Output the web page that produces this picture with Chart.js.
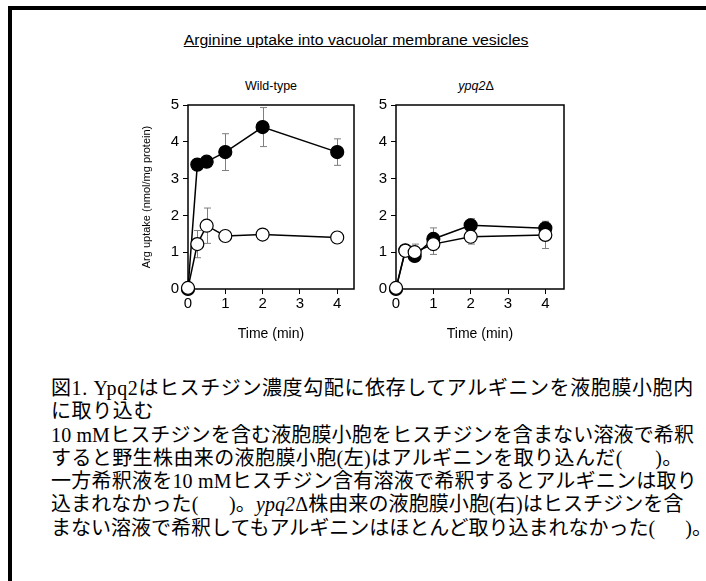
<!DOCTYPE html>
<html><head><meta charset="utf-8">
<script src="https://cdn.jsdelivr.net/npm/chart.js@4.4.1/dist/chart.umd.min.js"></script>
<style>
html,body{margin:0;padding:0;background:#fff;width:706px;height:581px;overflow:hidden;position:relative}
#frame{position:absolute;left:8px;top:6px;width:720px;height:600px;border-top:4px solid #000;border-left:4px solid #000;box-sizing:border-box}
.t{position:absolute;font-family:"Liberation Sans",Arial,sans-serif;color:#000;white-space:nowrap}
#title{left:7px;width:700px;top:32px;text-align:center;font-size:14px;text-decoration:underline;transform:scaleX(1.13);transform-origin:357px 0}
#sub1{left:171px;width:200px;top:79px;text-align:center;font-size:12.5px}
#sub2{left:376px;width:200px;top:79px;text-align:center;font-size:12.5px}
canvas{position:absolute}
#c1{left:130px;top:92px}
#c2{left:370px;top:92px}
#cap{position:absolute;left:51px;top:377px;font-family:"Liberation Serif","Noto Sans CJK JP",serif;font-size:20px;line-height:23.3px;color:#000;white-space:nowrap}
#cap span{display:block}
</style>
</head><body>
<div id="frame"></div>
<div class="t" id="title">Arginine uptake into vacuolar membrane vesicles</div>
<div class="t" id="sub1">Wild-type</div>
<div class="t" id="sub2"><i>ypq2</i>Δ</div>
<canvas id="c1" width="235" height="255"></canvas>
<canvas id="c2" width="205" height="255"></canvas>
<div id="cap"><span style="letter-spacing:0.6px">図1. Ypq2はヒスチジン濃度勾配に依存してアルギニンを液胞膜小胞内</span><span style="letter-spacing:0.6px">に取り込む</span><span style="letter-spacing:0.14px">10 mMヒスチジンを含む液胞膜小胞をヒスチジンを含まない溶液で希釈</span><span style="letter-spacing:0.4px">すると野生株由来の液胞膜小胞(左)はアルギニンを取り込んだ(&nbsp;&nbsp;&nbsp;&nbsp;&nbsp;&nbsp;)。</span><span style="letter-spacing:0.23px">一方希釈液を10 mMヒスチジン含有溶液で希釈するとアルギニンは取り</span><span style="letter-spacing:0.1px">込まれなかった(&nbsp;&nbsp;&nbsp;&nbsp;&nbsp;&nbsp;)。<i>ypq2</i>Δ株由来の液胞膜小胞(右)はヒスチジンを含</span><span>まない溶液で希釈してもアルギニンはほとんど取り込まれなかった(&nbsp;&nbsp;&nbsp;&nbsp;&nbsp;&nbsp;)。</span></div>
<script>
// Data (time in min, Arg uptake in nmol/mg protein)
const timePoints = [0, 0.25, 0.5, 1, 2, 4];
const xTicks = [0, 1, 2, 3, 4];
const yTicks = [0, 1, 2, 3, 4, 5];
// Wild-type: filled circles (diluted with histidine-free solution)
const wtFilled = [0, 3.38, 3.46, 3.72, 4.40, 3.72];
const wtFilledErr = [0, 0.05, 0.13, 0.50, 0.53, 0.36];
// Wild-type: open circles (diluted with 10 mM histidine solution)
const wtOpen = [0.03, 1.22, 1.72, 1.44, 1.48, 1.40];
const wtOpenErr = [0, 0.37, 0.48, 0.05, 0.12, 0.14];
// ypq2Δ: filled circles
const ypqFilled = [0, 1.05, 0.90, 1.36, 1.73, 1.65];
const ypqFilledErr = [0, 0.05, 0.15, 0.30, 0.18, 0.05];
// ypq2Δ: open circles
const ypqOpen = [0.03, 1.04, 1.00, 1.22, 1.42, 1.47];
const ypqOpenErr = [0, 0.05, 0.22, 0.28, 0.20, 0.37];

const FONT = '"Liberation Sans", Arial, sans-serif';

const framePlugin = {
  id: 'frame',
  beforeDatasetsDraw(chart) {
    const {ctx, chartArea: a} = chart;
    ctx.save();
    ctx.strokeStyle = '#000';
    ctx.lineWidth = 1.5;
    ctx.strokeRect(a.left, a.top, a.right - a.left, a.bottom - a.top);
    ctx.restore();
  }
};
const errPlugin = {
  id: 'errbars',
  beforeDatasetsDraw(chart) {
    const {ctx, scales: {x, y}} = chart;
    ctx.save();
    ctx.strokeStyle = '#7f7f7f';
    ctx.lineWidth = 1;
    chart.data.datasets.forEach(ds => {
      ds.errs.forEach((e, i) => {
        if (!e) return;
        const v = ds.vals[i];
        const px = Math.round(x.getPixelForValue(timePoints[i])) + 0.5;
        const top = y.getPixelForValue(v + e), bot = y.getPixelForValue(v - e);
        ctx.beginPath();
        ctx.moveTo(px, top); ctx.lineTo(px, bot);
        ctx.moveTo(px - 3.5, top); ctx.lineTo(px + 3.5, top);
        ctx.moveTo(px - 3.5, bot); ctx.lineTo(px + 3.5, bot);
        ctx.stroke();
      });
    });
    ctx.restore();
  }
};

function ds(vals, errs, fill) {
  return {
    data: timePoints.map((t, i) => ({x: t, y: vals[i]})),
    vals, errs,
    borderColor: '#000', borderWidth: 1.5,
    pointRadius: 6.5, pointHoverRadius: 6.5,
    pointBackgroundColor: fill, pointBorderColor: '#000', pointBorderWidth: 1.2,
    clip: false, tension: 0
  };
}

function makeChart(id, filled, filledErr, open, openErr, xmax, yWidth, showTitle) {
  new Chart(document.getElementById(id), {
    type: 'line',
    data: { datasets: [ds(open, openErr, '#fff'), ds(filled, filledErr, '#000')] },
    options: {
      responsive: false, animation: false, devicePixelRatio: 1,
      layout: {padding: {top: 5, right: 11, left: 0, bottom: 0}},
      plugins: {legend: {display: false}, tooltip: {enabled: false}},
      scales: {
        x: {
          type: 'linear', min: 0, max: xmax,
          afterBuildTicks: s => { s.ticks = xTicks.map(v => ({value: v})); },
          afterFit: s => { s.height = 58; },
          grid: {drawOnChartArea: false, tickLength: 5, color: '#000'},
          border: {display: false},
          ticks: {font: {family: FONT, size: 15}, color: '#000', padding: 1, maxRotation: 0},
          title: {display: true, text: 'Time (min)', font: {family: FONT, size: 14}, color: '#000', padding: {top: 0, bottom: 4}}
        },
        y: {
          type: 'linear', min: 0, max: 5,
          afterBuildTicks: s => { s.ticks = yTicks.map(v => ({value: v})); },
          afterFit: s => { s.width = yWidth; },
          grid: {drawOnChartArea: false, tickLength: 5, color: '#000'},
          border: {display: false},
          ticks: {font: {family: FONT, size: 15}, color: '#000', padding: 4},
          title: {display: showTitle, text: 'Arg uptake (nmol/mg protein)', font: {family: FONT, size: 11}, color: '#000', padding: {top: 10, bottom: 0}}
        }
      }
    },
    plugins: [framePlugin, errPlugin]
  });
}
makeChart('c1', wtFilled, wtFilledErr, wtOpen, wtOpenErr, 4.45, 58, true);
makeChart('c2', ypqFilled, ypqFilledErr, ypqOpen, ypqOpenErr, 4.5, 26, false);
</script>
</body></html>
